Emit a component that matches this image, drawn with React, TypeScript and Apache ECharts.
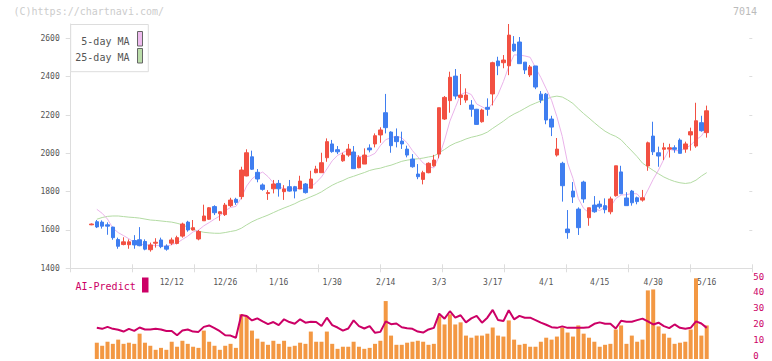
import React, { useEffect, useRef } from 'react';
import * as echarts from 'echarts';

// ---- data ----
const opens = [1627,1643,1641,1627,1615,1550,1524,1523,1545,1549,1540,1497,1531,1548,1516,1531,1530,1568,1641,1600,1553,1648,1656,1722,1685,1680,1727,1760,1774,1882,1982,1901,1835,1790,1815,1843,1800,1826,1826,1814,1840,1818,1899,1899,1977,2049,2019,1961,1991,2007,1925,1944,2028,2049,2096,2212,2111,2087,2064,2022,1970,1892,1864,1899,1935,1996,2179,2275,2403,2292,2278,2252,2230,2165,2240,2310,2482,2473,2457,2570,2581,2476,2409,2456,2309,2309,2179,1991,1948,1605,1803,1709,1850,1664,1730,1735,1727,1695,1779,1903,1767,1803,1768,1756,1934,2090,2003,2021,2022,2029,2069,2022,2096,2038,2160,2108];
const highs = [1634,1652,1650,1640,1617,1560,1562,1551,1573,1615,1551,1534,1557,1560,1525,1560,1570,1638,1648,1652,1600,1732,1720,1729,1697,1741,1768,1768,1930,2021,2014,1918,1843,1808,1861,1861,1834,1861,1830,1883,1845,1909,1935,2003,2078,2070,2038,2003,2049,2038,1990,2026,2047,2104,2136,2310,2115,2130,2113,2040,1996,1944,1909,1953,1992,2238,2299,2426,2440,2414,2339,2278,2232,2233,2287,2478,2504,2513,2675,2612,2607,2476,2461,2456,2325,2315,2196,2080,1956,1704,1850,1718,1857,1716,1777,1753,1765,1774,1935,1935,1797,1809,1774,1809,2061,2165,2035,2055,2050,2042,2078,2061,2134,2264,2196,2249];
const lows = [1625,1610,1607,1575,1549,1502,1520,1502,1502,1515,1494,1487,1508,1505,1492,1521,1525,1560,1591,1597,1546,1648,1652,1678,1648,1673,1720,1731,1760,1880,1913,1849,1805,1757,1791,1774,1757,1800,1765,1814,1790,1818,1896,1899,1956,2003,1996,1956,1982,1920,1922,1944,2005,2031,2055,2104,2003,2031,2023,1979,1925,1865,1838,1896,1930,1974,2174,2212,2282,2252,2264,2191,2151,2160,2196,2250,2408,2444,2408,2530,2468,2414,2398,2335,2262,2152,2090,1983,1748,1554,1741,1574,1742,1622,1690,1711,1687,1682,1774,1789,1727,1727,1734,1748,1909,1991,1930,1965,1978,2003,2000,2003,2014,2029,2113,2082];
const closes = [1631,1616,1620,1620,1560,1515,1538,1538,1522,1518,1500,1522,1536,1513,1500,1548,1560,1631,1600,1612,1592,1673,1716,1690,1695,1730,1756,1744,1913,2003,1917,1866,1812,1795,1840,1815,1814,1803,1803,1855,1795,1866,1918,1951,2061,2009,2008,1991,2022,1920,1979,1991,2018,2092,2122,2134,2040,2061,2049,1991,1930,1878,1899,1948,1965,2238,2292,2397,2299,2304,2304,2230,2151,2226,2230,2473,2457,2487,2617,2535,2468,2435,2451,2346,2278,2174,2137,2022,1831,1586,1772,1612,1762,1716,1695,1721,1706,1762,1935,1789,1727,1742,1748,1768,2055,2008,1986,2029,2029,2021,2000,2049,2113,2170,2118,2222];

const ma5 = [null,1708,1687,1657,1609.4,1586.2,1570.6,1554.2,1534.6,1526.2,1523.2,1520,1519.6,1517.8,1514.2,1523.8,1531.4,1550.4,1567.8,1590.2,1599,1621.6,1638.6,1656.6,1673.2,1700.8,1717.4,1723,1767.6,1829.2,1866.6,1888.6,1902.2,1878.6,1846,1825.6,1815.2,1813.4,1815,1818,1814,1824.4,1847.4,1877,1918.2,1961,1989.4,2004,2018.2,1990,1984,1980.6,1986,2000,2040.4,2071.4,2081.2,2089.8,2081.2,2055,2014.2,1981.8,1949.4,1929.2,1924,1985.6,2068.4,2168,2238.2,2306,2319.2,2306.8,2257.6,2243,2228.2,2262,2307.4,2374.6,2452.8,2513.8,2512.8,2508.4,2501.2,2447,2395.6,2336.8,2277.2,2191.4,2088.4,1950,1869.6,1764.6,1712.6,1689.6,1711.4,1701.2,1720,1720,1763.8,1782.6,1783.8,1791,1788.2,1754.8,1808,1864.2,1913,1969.2,2021.4,2014.6,2013,2025.6,2042.4,2070.6,2090,2134.4];
const ma25 = [null,1656,1665,1671,1673,1673,1670,1667,1665,1662,1657,1652,1650,1647,1644,1641,1635,1627,1615,1603,1594,1588,1585,1583,1582.6,1586.6,1592.2,1597.2,1608.9,1626.6,1642.7,1655.8,1666.8,1677.7,1690.6,1703.2,1714.8,1725.5,1737.1,1751.3,1761.2,1773.4,1784.9,1799,1816.9,1833.6,1847,1858,1871.3,1880.3,1890.2,1899.6,1910.6,1917.8,1922.5,1931.2,1938.2,1948.1,1958.3,1964.3,1968.9,1971.5,1975.3,1981.1,1985.5,2003.2,2020.3,2039.4,2053.4,2063.1,2074.9,2083.8,2090.2,2098.3,2110.7,2130.5,2149.1,2167.9,2188.9,2205.4,2218.8,2234.6,2250.2,2262,2273.5,2283.3,2293.6,2298.6,2293.9,2278.7,2260.1,2232.9,2207.5,2184.2,2159.8,2136.5,2115.5,2100,2088.3,2070.7,2040.8,2012.2,1982.7,1948.7,1929.5,1911.1,1893.2,1876.3,1863.6,1853.3,1846.4,1842.8,1846.5,1860,1881.3,1899.3];

const volume = [null,10.1,8.2,10.7,9.4,12.0,9.4,10.1,9.4,15.7,10.1,8.2,5.7,6.9,5.7,10.7,7.6,11.3,9.4,7.6,6.9,17.6,10.7,8.2,5.7,8.2,9.4,6.9,27.7,26.7,17.6,12.6,10.7,8.8,11.3,9.4,11.3,7.6,8.2,10.1,9.4,17.0,10.7,10.7,17.0,9.4,6.3,7.6,7.6,10.7,7.6,6.3,6.9,9.4,11.3,35.9,14.5,8.8,8.8,10.1,10.7,11.3,10.7,8.8,9.4,26.4,21.4,27.7,21.4,22.7,14.5,13.2,14.5,14.5,15.7,19.5,14.5,13.9,23.9,12.0,8.8,9.4,7.6,7.6,10.7,13.2,12.0,13.9,19.5,16.4,13.9,20.8,15.7,13.2,10.7,7.6,8.8,9.4,18.3,20.8,9.4,14.5,10.7,12.0,42.5,43.1,20.2,15.7,13.2,9.4,10.1,10.7,18.3,50.1,14.5,20.8];
const aiPredict = [null,19.3,18.7,19.9,18.7,18.1,17.0,18.7,17.4,19.5,18.3,18.3,18.7,18.3,17.4,17.4,14.7,17.6,18.3,17.0,16.8,19.9,20.8,19.1,17.2,14.7,14.5,13.2,27.3,26.7,23.9,25.2,23.3,21.6,22.9,21.0,24.6,22.9,21.8,24.6,22.5,23.1,22.9,20.4,25.6,21.0,19.5,17.6,18.9,23.9,20.4,18.9,20.4,16.2,16.8,23.3,21.6,22.0,19.7,19.1,18.7,17.0,16.4,18.3,19.3,28.1,25.0,29.6,25.6,27.1,22.7,25.2,26.7,22.5,25.6,30.4,24.1,23.5,30.2,24.6,26.7,25.6,25.6,24.1,22.5,21.2,19.7,19.3,20.2,19.3,19.3,19.3,19.3,19.7,21.8,22.7,21.8,21.8,18.9,23.7,23.1,23.1,24.1,25.0,23.3,21.4,22.5,20.4,19.1,21.4,19.3,18.7,19.3,23.3,22.0,19.3];

const dateLabelIndex = [15, 25, 35, 45, 55, 65, 75, 85, 95, 105, 115];
const dateLabels = ['12/12', '12/26', '1/16', '1/30', '2/14', '3/3', '3/17', '4/1', '4/15', '4/30', '5/16'];
const priceTicks = [1400, 1600, 1800, 2000, 2200, 2400, 2600];

const MONO = "'DejaVu Sans Mono', monospace";
const UP = '#f25042';
const DOWN = '#3f7ef0';
const AXIS = '#dddddd';

export default function App() {
  const ref = useRef<HTMLDivElement>(null);
  useEffect(() => {
    const chart = echarts.init(ref.current!, null, { renderer: 'svg' });
    const cats = closes.map((_, i) => String(i));
    const labelMap: Record<number, string> = {};
    dateLabelIndex.forEach((idx, k) => { labelMap[idx] = dateLabels[k]; });
    const candle = opens.map((o, i) => [o, closes[i], lows[i], highs[i]]);

    const topG = { top: 24, height: 244.3 };
    const botG = { top: 278.3, height: 80.7 };
    const botLabelG = { top: 276.5, height: 79 };
    const frameX = { left: 70.7, width: 681.6 };
    const dataX = { left: 88.78, width: 620.6 };

    const option: any = {
      animation: false,
      grid: [
        { ...frameX, ...topG, outerBoundsMode: 'none', containLabel: false },
        { ...dataX, ...topG, outerBoundsMode: 'none', containLabel: false },
        { ...dataX, ...botG, outerBoundsMode: 'none', containLabel: false },
        { ...frameX, ...botLabelG, outerBoundsMode: 'none', containLabel: false },
      ],
      xAxis: [
        {
          gridIndex: 0, type: 'value', min: 0, max: 11, interval: 1,
          axisLine: { show: true, onZero: false, lineStyle: { color: AXIS, width: 1 } },
          axisTick: { show: true, length: 4, lineStyle: { color: AXIS } },
          axisLabel: { show: false }, splitLine: { show: false },
        },
        {
          gridIndex: 1, type: 'category', data: cats, boundaryGap: true,
          axisLine: { show: false, onZero: false }, axisTick: { show: false },
          axisLabel: {
            show: true,
            interval: (index: number) => labelMap[index] !== undefined,
            formatter: (_v: string, index: number) => labelMap[index] ?? '',
            fontFamily: MONO, fontSize: 8, color: '#555', margin: 10,
          },
          splitLine: { show: false },
        },
        { gridIndex: 2, type: 'category', data: cats, boundaryGap: true, show: false },
        { gridIndex: 3, type: 'value', min: 0, max: 1, show: false },
        {
          gridIndex: 0, type: 'value', min: 0, max: 11, interval: 1, position: 'bottom',
          axisLine: { show: false, onZero: false },
          axisTick: { show: true, inside: true, length: 4, lineStyle: { color: AXIS } },
          axisLabel: { show: false }, splitLine: { show: false },
        },
      ],
      yAxis: [
        {
          gridIndex: 0, type: 'value', min: 1400, max: 2675,
          axisLine: { show: true, onZero: false, lineStyle: { color: AXIS, width: 1 } },
          axisTick: { show: true, length: 5, customValues: priceTicks, lineStyle: { color: AXIS } },
          axisLabel: {
            show: true, customValues: priceTicks, fontFamily: MONO, fontSize: 8, color: '#555', margin: 11,
            formatter: (v: number) => String(v),
          },
          splitLine: { show: false },
        },
        { gridIndex: 1, type: 'value', min: 1400, max: 2675, show: false },
        { gridIndex: 2, type: 'value', min: 0, max: 50, show: false },
        {
          gridIndex: 3, type: 'value', min: 0, max: 50, interval: 10, position: 'right',
          axisLine: { show: false, onZero: false }, axisTick: { show: false },
          axisLabel: { show: true, fontFamily: MONO, fontSize: 9, color: '#cc0066', margin: 1, formatter: (v: number) => String(v) },
          splitLine: { show: false },
        },
        {
          gridIndex: 0, type: 'value', min: 1400, max: 2675,
          axisLine: { show: false, onZero: false },
          axisTick: { show: true, inside: true, length: 3, customValues: priceTicks, lineStyle: { color: AXIS } },
          axisLabel: { show: false }, splitLine: { show: false },
        },
      ],
      series: [
        {
          type: 'line', xAxisIndex: 1, yAxisIndex: 1, data: ma25, symbol: 'none', z: 2,
          lineStyle: { color: '#b3dba3', width: 1 },
        },
        {
          type: 'line', xAxisIndex: 1, yAxisIndex: 1, data: ma5, symbol: 'none', z: 2,
          lineStyle: { color: '#eab3ea', width: 1 },
        },
        {
          type: 'candlestick', xAxisIndex: 1, yAxisIndex: 1, data: candle, barWidth: 4, z: 3,
          itemStyle: { color: UP, color0: DOWN, borderColor: UP, borderColor0: DOWN, borderWidth: 1 },
        },
        {
          type: 'bar', xAxisIndex: 2, yAxisIndex: 2, data: volume, barWidth: 4,
          itemStyle: { color: '#f39843' }, z: 2,
        },
        {
          type: 'line', xAxisIndex: 2, yAxisIndex: 2, data: aiPredict, symbol: 'none', z: 3,
          lineStyle: { color: '#cc0066', width: 2 },
        },
      ],
      graphic: [
        { type: 'text', left: 13.5, top: 6.5, style: { text: '(C)https://chartnavi.com/', font: `10px ${MONO}`, fill: '#cccccc' } },
        { type: 'text', right: 15, top: 6.5, style: { text: '7014', font: `10px ${MONO}`, fill: '#bbbbbb' } },
        { type: 'rect', shape: { x: 70.7, y: 24.5, width: 77.6, height: 47.2 }, style: { fill: '#ffffff', stroke: '#dddddd', lineWidth: 1 }, z: 10 },
        { type: 'text', x: 129.5, y: 41, style: { text: '5-day MA', font: `10px ${MONO}`, fill: '#555555', align: 'right', verticalAlign: 'middle' }, z: 11 },
        { type: 'text', x: 129.5, y: 57.5, style: { text: '25-day MA', font: `10px ${MONO}`, fill: '#555555', align: 'right', verticalAlign: 'middle' }, z: 11 },
        { type: 'rect', shape: { x: 137.5, y: 31.5, width: 5, height: 14.5 }, style: { fill: '#eebbee', stroke: '#666666', lineWidth: 1 }, z: 11 },
        { type: 'rect', shape: { x: 137.5, y: 48.5, width: 5, height: 14.5 }, style: { fill: '#bbddaa', stroke: '#666666', lineWidth: 1 }, z: 11 },
        { type: 'text', x: 75.5, y: 286, style: { text: 'AI-Predict', font: `10px ${MONO}`, fill: '#cc0066', verticalAlign: 'middle' }, z: 11 },
        { type: 'rect', shape: { x: 142, y: 277.5, width: 6.5, height: 15 }, style: { fill: '#cc0066' }, z: 11 },
      ],
    };
    chart.setOption(option);
    return () => chart.dispose();
  }, []);
  return <div ref={ref} style={{ position: 'fixed', left: 0, top: 0, width: 772, height: 361, background: '#fff' }} />;
}
